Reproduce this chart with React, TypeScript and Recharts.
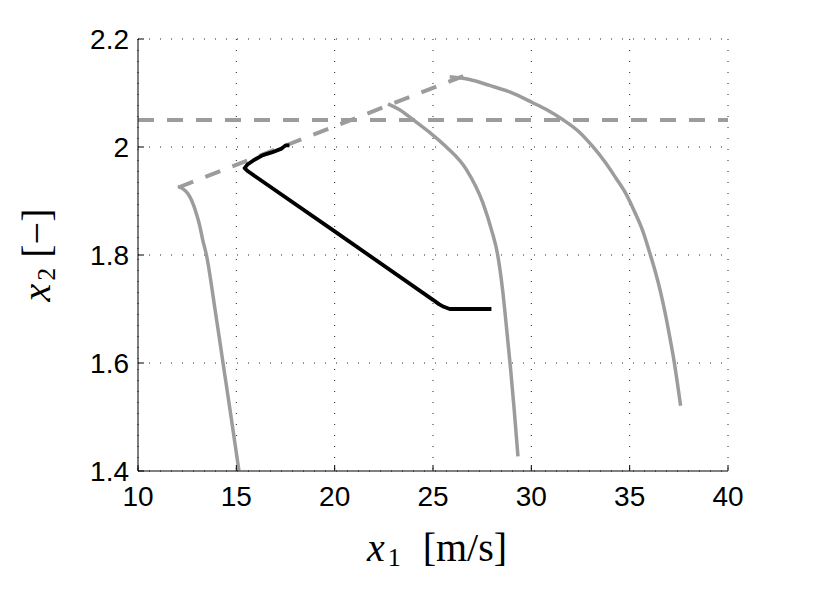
import React from "react";
import { CartesianGrid, Label, Line, LineChart, XAxis, YAxis } from "recharts";

// axis ticks
const xTicks = [10, 15, 20, 25, 30, 35, 40];
const yTicks = [1.4, 1.6, 1.8, 2, 2.2];

// gray trajectories, [x1, x2] pairs
const leftCurve: [number, number][] = [
    [12.03, 1.927], [12.27, 1.923], [12.53, 1.914], [12.73, 1.901], [12.93, 1.881],
    [13.14, 1.854], [13.29, 1.828], [13.48, 1.8], [13.91, 1.701], [14.32, 1.601],
    [14.73, 1.501], [15.13, 1.401],
];

const middleCurve: [number, number][] = [
    [22.71, 2.08], [23.3, 2.069], [23.97, 2.051], [24.83, 2.027], [25.68, 2.0],
    [26.7, 1.958], [27.54, 1.896], [27.97, 1.847], [28.29, 1.8], [28.54, 1.735],
    [28.75, 1.661], [28.95, 1.587], [29.13, 1.513], [29.32, 1.427],
];

const rightCurve: [number, number][] = [
    [25.85, 2.13], [26.86, 2.125], [27.88, 2.114], [28.9, 2.102], [30.07, 2.082],
    [30.83, 2.068], [31.59, 2.051], [32.46, 2.027], [33.12, 2.001], [33.73, 1.973],
    [34.29, 1.943], [34.8, 1.914], [35.25, 1.88], [35.66, 1.845], [36.02, 1.804],
    [36.32, 1.767], [36.58, 1.73], [36.83, 1.688], [37.05, 1.646], [37.26, 1.603],
    [37.43, 1.562], [37.59, 1.521],
];

// black trajectory
const blackPath: [number, number][] = [
    [17.7, 2.003], [17.5, 2.003], [17.3, 1.997], [16.8, 1.99], [16.35, 1.985],
    [15.9, 1.976], [15.55, 1.967], [15.42, 1.961], [15.59, 1.955], [19.91, 1.846],
    [25.0, 1.717], [25.3, 1.709], [25.55, 1.704], [25.85, 1.7], [27.97, 1.7],
];

// dashed limits
const slantLimit: [number, number][] = [[12.05, 1.925], [26.65, 2.133]];
const upperLimit: [number, number][] = [[10, 2.05], [40, 2.05]];

const toPoints = (pts: [number, number][]) => pts.map(([x, y]) => ({ x, y }));

const GRAY = "#9c9c9c";
const TICK_FONT = "'Liberation Sans', Arial, Helvetica, sans-serif";
const LABEL_FONT = "'Liberation Serif', 'Times New Roman', serif";
const TICK_LEN = 6;

const BottomTick = ({ x, y, payload }: any) => (
    <g>
        <line x1={x} y1={y} x2={x} y2={y - TICK_LEN} stroke="#000" />
        <text x={x} y={y + 35} textAnchor="middle" fontFamily={TICK_FONT} fontSize={28} fill="#000">
            {payload.value}
        </text>
    </g>
);

const LeftTick = ({ x, y, payload }: any) => (
    <g>
        <line x1={x} y1={y} x2={x + TICK_LEN} y2={y} stroke="#000" />
        <text x={x - 9} y={y} dy="0.36em" textAnchor="end" fontFamily={TICK_FONT} fontSize={28} fill="#000">
            {payload.value}
        </text>
    </g>
);

const TopTick = ({ x, y }: any) => <line x1={x} y1={y} x2={x} y2={y + TICK_LEN} stroke="#000" />;

const RightTick = ({ x, y }: any) => <line x1={x} y1={y} x2={x - TICK_LEN} y2={y} stroke="#000" />;

const XAxisLabel = (props: any) => {
    const { x, y, width } = props.viewBox;
    return (
        <text x={x + width / 2 + 4} y={y + 90} textAnchor="middle" fontFamily={LABEL_FONT} fontSize={40} fill="#000">
            <tspan fontStyle="italic">x</tspan>
            <tspan fontSize={26} dx={3} dy={5}>1</tspan>
            <tspan dx={22} dy={-5}>[m/s]</tspan>
        </text>
    );
};

const YAxisLabel = (props: any) => {
    const { x, y, height } = props.viewBox;
    const cx = x - 28;
    const cy = y + height / 2;
    return (
        <text
            x={cx}
            y={cy}
            transform={`rotate(-90, ${cx}, ${cy})`}
            textAnchor="middle"
            fontFamily={LABEL_FONT}
            fontSize={40}
            fill="#000"
        >
            <tspan fontStyle="italic">x</tspan>
            <tspan fontSize={26} dx={3} dy={5}>2</tspan>
            <tspan dx={10} dy={-5}>[−]</tspan>
        </text>
    );
};

export default function App() {
    return (
        <div style={{ position: "absolute", left: 0, top: 0, width: 829, height: 590, background: "#fff" }}>
            <LineChart width={829} height={590} margin={{ top: 39, right: 101, bottom: 59, left: 78 }}>
                <CartesianGrid stroke="#222" strokeDasharray="1 10" />
                <XAxis
                    type="number"
                    dataKey="x"
                    domain={[10, 40]}
                    ticks={xTicks}
                    interval={0}
                    allowDataOverflow
                    height={60}
                    tickSize={0}
                    tickMargin={0}
                    tickLine={false}
                    tick={<BottomTick />}
                    axisLine={{ stroke: "#000" }}
                >
                    <Label content={XAxisLabel} />
                </XAxis>
                <YAxis
                    type="number"
                    domain={[1.4, 2.2]}
                    ticks={yTicks}
                    interval={0}
                    allowDataOverflow
                    width={60}
                    tickSize={0}
                    tickMargin={0}
                    tickLine={false}
                    tick={<LeftTick />}
                    axisLine={{ stroke: "#000" }}
                >
                    <Label content={YAxisLabel} />
                </YAxis>
                <XAxis
                    xAxisId="top"
                    orientation="top"
                    type="number"
                    dataKey="x"
                    domain={[10, 40]}
                    ticks={xTicks}
                    interval={0}
                    allowDataOverflow
                    height={0}
                    tickSize={0}
                    tickMargin={0}
                    tickLine={false}
                    tick={<TopTick />}
                    axisLine={{ stroke: "#000" }}
                />
                <YAxis
                    yAxisId="right"
                    orientation="right"
                    type="number"
                    domain={[1.4, 2.2]}
                    ticks={yTicks}
                    interval={0}
                    allowDataOverflow
                    width={0}
                    tickSize={0}
                    tickMargin={0}
                    tickLine={false}
                    tick={<RightTick />}
                    axisLine={{ stroke: "#000" }}
                />
                <Line
                    xAxisId="top"
                    yAxisId="right"
                    data={toPoints(upperLimit)}
                    dataKey="y"
                    type="linear"
                    stroke={GRAY}
                    strokeWidth={4}
                    strokeDasharray="16 13"
                    dot={false}
                    activeDot={false}
                    isAnimationActive={false}
                />
                <Line data={toPoints(leftCurve)} dataKey="y" type="monotone" stroke={GRAY} strokeWidth={3.5}
                    dot={false} activeDot={false} isAnimationActive={false} />
                <Line data={toPoints(middleCurve)} dataKey="y" type="monotone" stroke={GRAY} strokeWidth={3.5}
                    dot={false} activeDot={false} isAnimationActive={false} />
                <Line data={toPoints(rightCurve)} dataKey="y" type="monotone" stroke={GRAY} strokeWidth={3.5}
                    dot={false} activeDot={false} isAnimationActive={false} />
                <Line data={toPoints(slantLimit)} dataKey="y" type="linear" stroke={GRAY} strokeWidth={4}
                    strokeDasharray="16 13" dot={false} activeDot={false} isAnimationActive={false} />
                <Line data={toPoints(blackPath)} dataKey="y" type="linear" stroke="#000" strokeWidth={3.8}
                    strokeLinejoin="round" dot={false} activeDot={false} isAnimationActive={false} />
            </LineChart>
        </div>
    );
}
